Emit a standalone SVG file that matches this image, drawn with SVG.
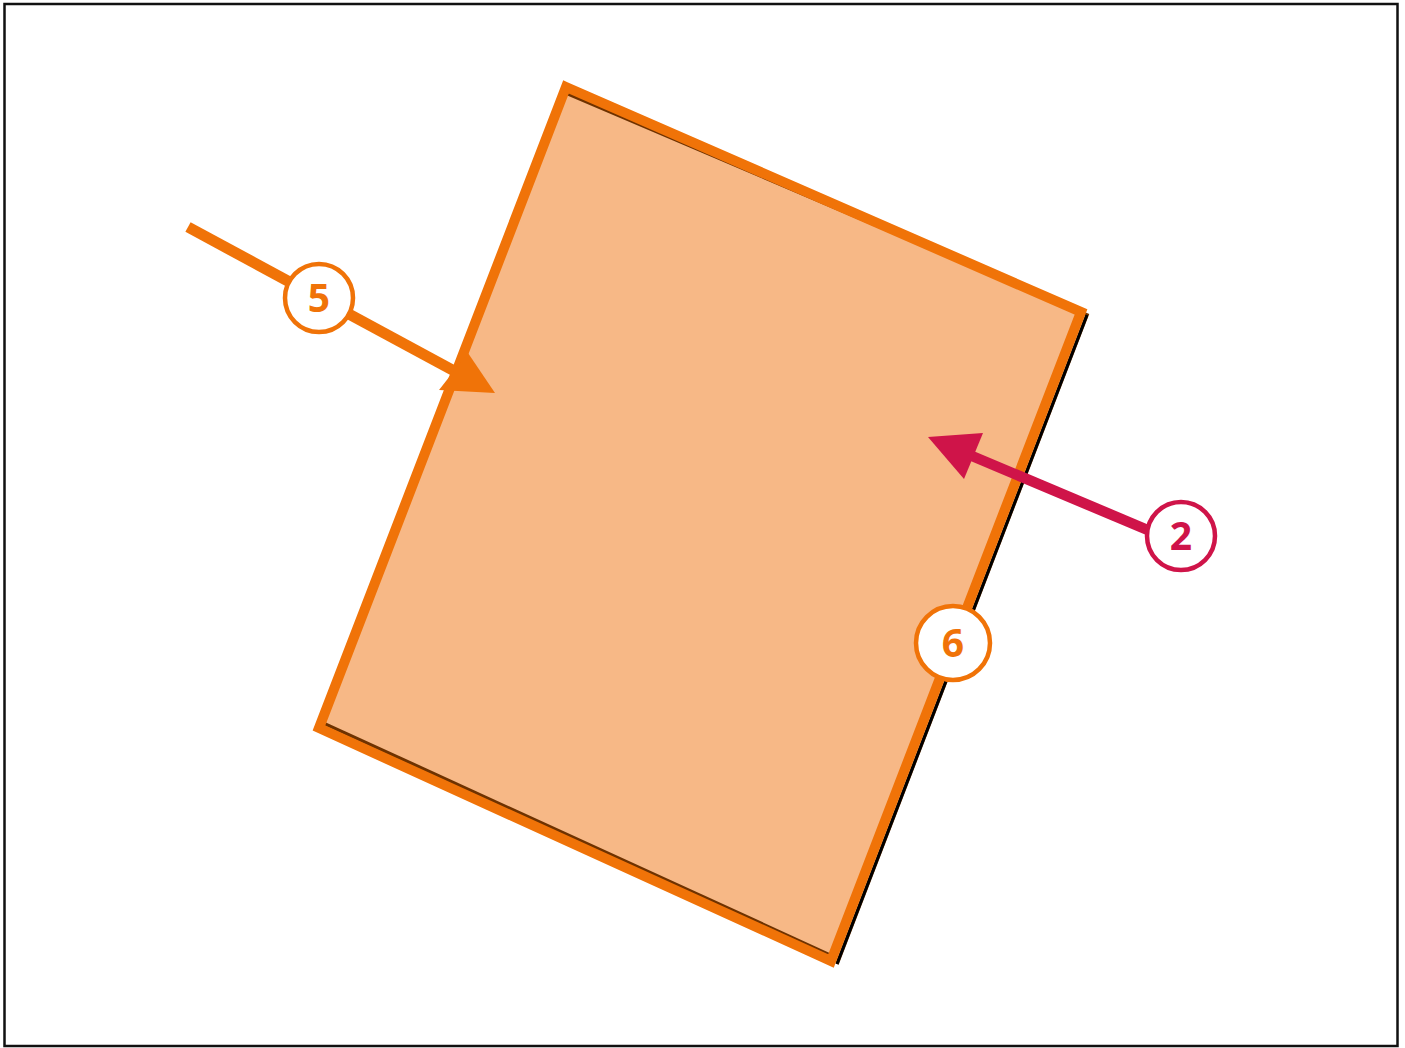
<svg xmlns="http://www.w3.org/2000/svg" width="1405" height="1048" viewBox="0 0 1405 1048">
<style>
.badge{fill:#fff;stroke-width:4.5}
.num{font-family:"Open Sans","DejaVu Sans",sans-serif;font-weight:bold;font-size:39px;text-anchor:middle}
.or{stroke:#F07308}
.cr{stroke:#CF1449}
</style>
<rect x="0" y="0" width="1405" height="1048" fill="#fff"/>
<rect x="4.5" y="4" width="1393" height="1042" fill="none" stroke="#111" stroke-width="2.5"/>
<g id="shape">
<polygon points="566,87 1081,312 831,961 319,728" fill="#F7B886"/>
<polyline points="568,94 1087,315 837,964" fill="none" stroke="#6e3200" stroke-width="3.5"/>
<line x1="1087" y1="315" x2="837" y2="964" stroke="#000" stroke-width="3"/>
<line x1="323" y1="723" x2="830" y2="955" stroke="#6e3200" stroke-width="3.5"/>
<polygon points="566,87 1081,312 831,961 319,728" fill="none" stroke="#F07308" stroke-width="10" stroke-linejoin="miter"/>
</g>
<g id="connectors">
<line x1="188" y1="227" x2="458" y2="373" stroke="#F07308" stroke-width="11"/>
<polygon points="495,393 468,353 439,390" fill="#F07308"/>
<line x1="1150" y1="531" x2="972" y2="456" stroke="#CF1449" stroke-width="10.5"/>
<polygon points="928,437 983,433 964,479" fill="#CF1449"/>
</g>
<g id="badge5">
<circle cx="319" cy="298" r="34" class="badge or"/>
<text x="319" y="312" class="num" fill="#F07308">5</text>
</g>
<g id="badge6">
<circle cx="953" cy="643" r="37" class="badge or"/>
<text x="953" y="657" class="num" fill="#F07308">6</text>
</g>
<g id="badge2">
<circle cx="1181" cy="536" r="34" class="badge cr"/>
<text x="1181" y="550" class="num" fill="#CF1449">2</text>
</g>
</svg>
